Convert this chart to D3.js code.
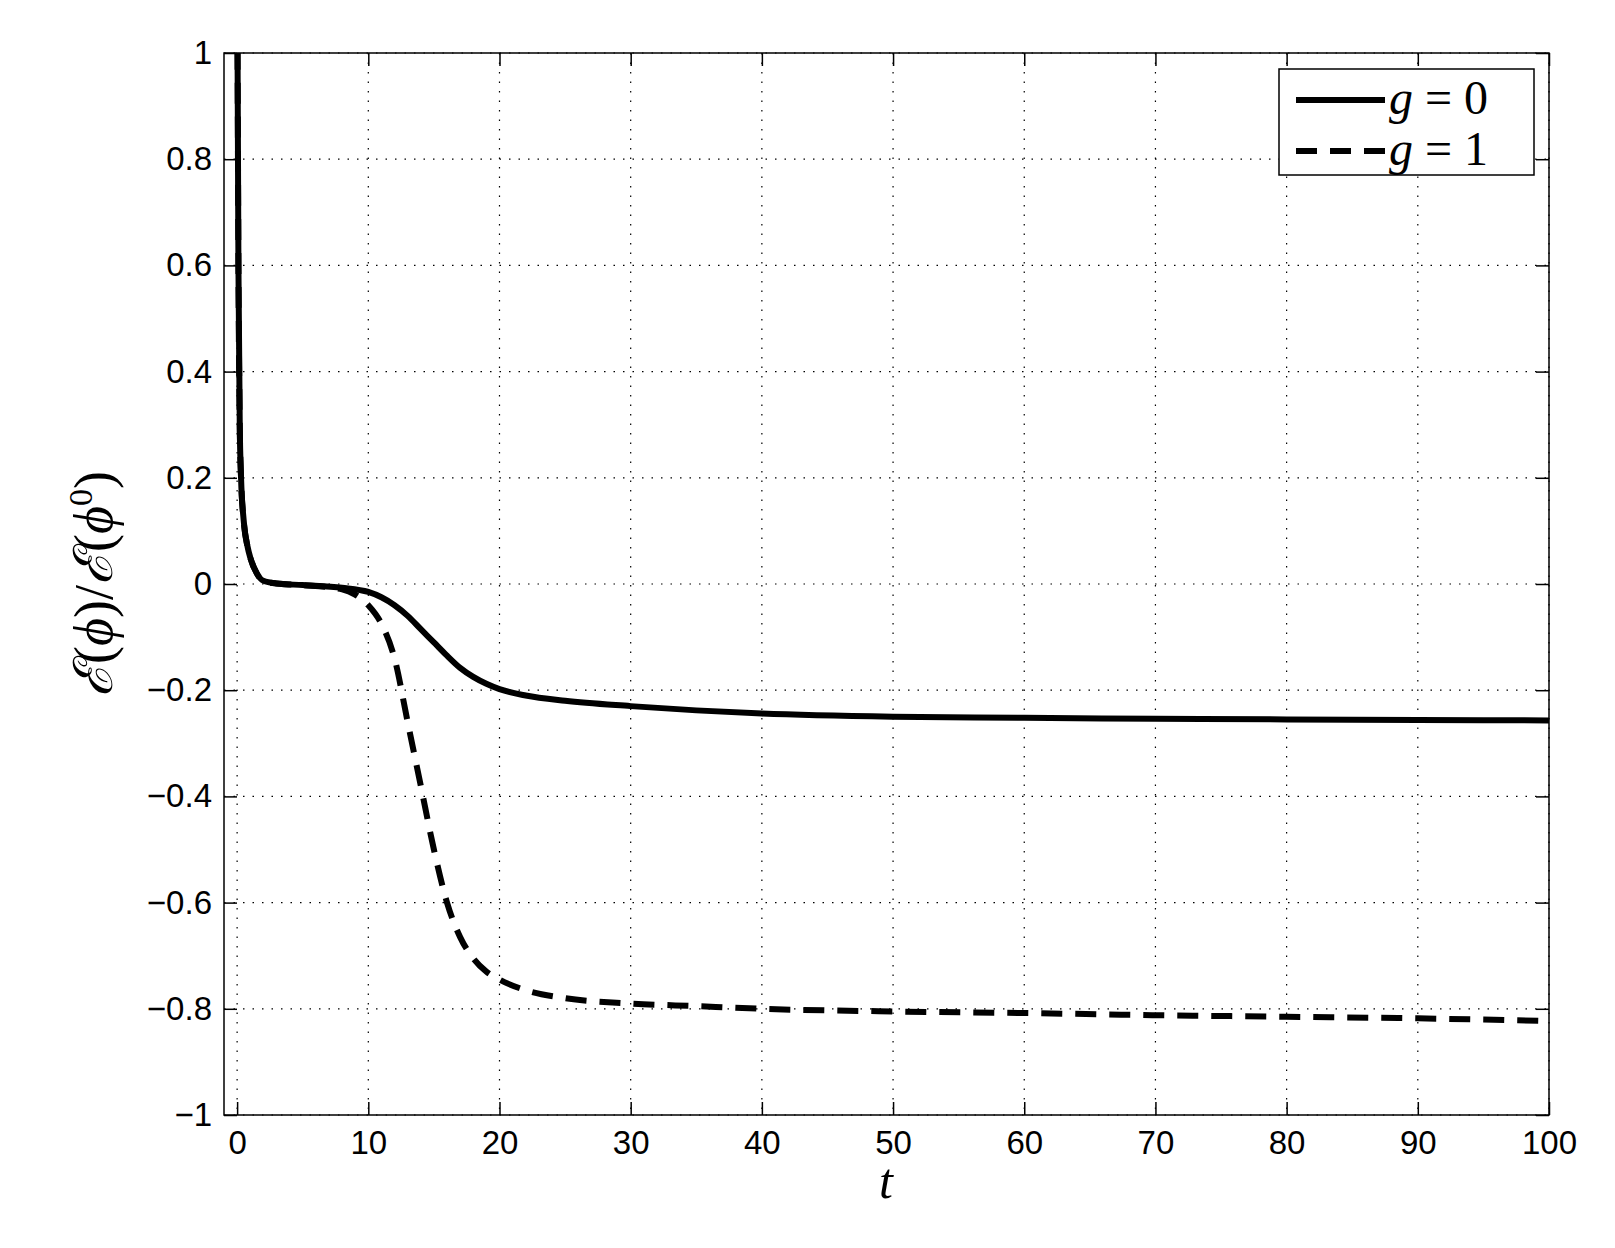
<!DOCTYPE html>
<html><head><meta charset="utf-8">
<script src="https://cdn.jsdelivr.net/npm/d3@7"></script>
<style>body{margin:0;background:#fff}</style></head>
<body><svg id="c" width="1615" height="1248"></svg>
<script>
const tG0 = [0,0.05,0.1,0.2,0.3,0.5,0.8,1,1.5,2,3,5,8,10,11,12,13,14,15,16,17,18,19,20,22,25,30,35,40,50,60,70,80,90,100];
const yG0 = [1.2,0.9,0.6,0.3,0.2,0.12,0.07,0.05,0.02,0.006,0.001,-0.002,-0.007,-0.015,-0.025,-0.04,-0.06,-0.085,-0.11,-0.135,-0.158,-0.175,-0.188,-0.198,-0.21,-0.22,-0.23,-0.238,-0.244,-0.25,-0.252,-0.254,-0.255,-0.256,-0.257];
const tG1 = [0,0.05,0.1,0.2,0.3,0.5,0.8,1,1.5,2,3,5,8,9,10,11,12,13,14,15,16,17,18,19,20,22,25,30,35,40,50,60,70,80,90,100];
const yG1 = [1.2,0.9,0.6,0.3,0.2,0.12,0.07,0.05,0.02,0.006,0.001,-0.002,-0.01,-0.02,-0.04,-0.075,-0.14,-0.26,-0.38,-0.5,-0.6,-0.665,-0.705,-0.73,-0.745,-0.765,-0.78,-0.79,-0.795,-0.8,-0.805,-0.808,-0.812,-0.815,-0.818,-0.823];
const xTicks = [0,10,20,30,40,50,60,70,80,90,100];
const yTicks = [-1,-0.8,-0.6,-0.4,-0.2,0,0.2,0.4,0.6,0.8,1];
const svg = d3.select('#c');
const L=224,R=1549,T=53,B=1115;
const x=d3.scaleLinear().domain([-1,100]).range([L,R]);
const y=d3.scaleLinear().domain([-1,1]).range([B,T]);
const fmt=v=>(v<0?'\u2212':'')+Math.abs(v).toString();
const g=svg.append('g');
g.selectAll('.gx').data(xTicks).enter().append('line').attr('x1',d=>x(d)).attr('x2',d=>x(d)).attr('y1',T).attr('y2',B).attr('stroke','#000').attr('stroke-width',1.2).attr('stroke-dasharray','1.5,8');
g.selectAll('.gy').data(yTicks).enter().append('line').attr('y1',d=>y(d)).attr('y2',d=>y(d)).attr('x1',L).attr('x2',R).attr('stroke','#000').attr('stroke-width',1.2).attr('stroke-dasharray','1.5,8');
const ax=d3.axisBottom(x).tickValues(xTicks).tickSize(-13).tickPadding(16).tickFormat(fmt);
const ay=d3.axisLeft(y).tickValues(yTicks).tickSize(-13).tickPadding(12).tickFormat(fmt);
svg.append('g').attr('transform',`translate(0,${B})`).call(ax);
svg.append('g').attr('transform',`translate(${L},0)`).call(ay);
svg.append('g').attr('transform',`translate(0,${T})`).call(d3.axisTop(x).tickValues(xTicks).tickSize(-13).tickFormat(''));
svg.append('g').attr('transform',`translate(${R},0)`).call(d3.axisRight(y).tickValues(yTicks).tickSize(-13).tickFormat(''));
svg.selectAll('.domain').remove();
svg.selectAll('.tick line').attr('stroke','#000').attr('stroke-width',1.5);
svg.selectAll('.tick text').attr('font-family','Liberation Sans, Arial').attr('font-size',33).attr('fill','#000');
svg.append('rect').attr('x',L).attr('y',T).attr('width',R-L).attr('height',B-T).attr('fill','none').attr('stroke','#000').attr('stroke-width',1.5);
svg.append('clipPath').attr('id','cp').append('rect').attr('x',L).attr('y',T).attr('width',R-L).attr('height',B-T);
const line=d3.line().x(d=>x(d[0])).y(d=>y(d[1])).curve(d3.curveMonotoneX);
svg.append('path').attr('clip-path','url(#cp)').datum(tG1.map((t,i)=>[t,yG1[i]])).attr('d',line).attr('fill','none').attr('stroke','#000').attr('stroke-width',6).attr('stroke-dasharray','21,13');
svg.append('path').attr('clip-path','url(#cp)').datum(tG0.map((t,i)=>[t,yG0[i]])).attr('d',line).attr('fill','none').attr('stroke','#000').attr('stroke-width',6);
// legend
const lg=svg.append('g');
lg.append('rect').attr('x',1279).attr('y',69).attr('width',255).attr('height',106).attr('fill','#fff').attr('stroke','#000').attr('stroke-width',1.5);
lg.append('line').attr('x1',1296).attr('x2',1385).attr('y1',100).attr('y2',100).attr('stroke','#000').attr('stroke-width',6);
lg.append('line').attr('x1',1296).attr('x2',1385).attr('y1',151).attr('y2',151).attr('stroke','#000').attr('stroke-width',6).attr('stroke-dasharray','21,13');
[['0',114],['1',165]].forEach(([v,yy])=>{
 const t=lg.append('text').attr('x',1389).attr('y',yy).attr('font-family','Liberation Serif, DejaVu Serif').attr('font-size',48).attr('xml:space','preserve');
 t.append('tspan').attr('font-style','italic').text('g');
 t.append('tspan').text(' = '+v);
});
svg.append('text').attr('x',886).attr('y',1198).attr('text-anchor','middle').attr('font-family','Liberation Serif, DejaVu Serif').attr('font-style','italic').attr('font-size',50).text('t');
const yl=svg.append('text').attr('transform','translate(112,584) rotate(-90)').attr('text-anchor','middle').attr('font-family','Liberation Serif, DejaVu Serif').attr('font-size',54);
yl.append('tspan').attr('font-style','italic').text('\u2130');
yl.append('tspan').text('(');
yl.append('tspan').attr('font-style','italic').text('\u03D5');
yl.append('tspan').text(')/');
yl.append('tspan').attr('font-style','italic').text('\u2130');
yl.append('tspan').text('(');
yl.append('tspan').attr('font-style','italic').text('\u03D5');
yl.append('tspan').attr('font-size',34).attr('dy',-20).text('0');
yl.append('tspan').attr('dy',20).text(')');
</script></body></html>
